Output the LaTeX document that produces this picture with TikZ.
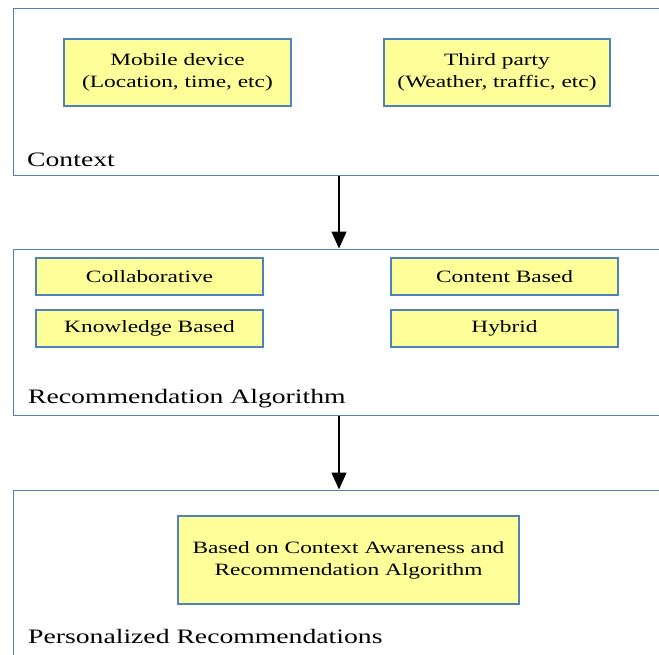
\documentclass[tikz,border=0pt]{standalone}
\usepackage{fontspec}
\setmainfont{Liberation Serif}
\newfontfamily\widefont[FakeStretch=1.35]{Liberation Serif}
\usetikzlibrary{arrows.meta}
\definecolor{bordblue}{HTML}{4F81BD}
\definecolor{boxyellow}{HTML}{FFFF99}
\tikzset{
  outerbox/.style={draw=bordblue, line width=1pt, rectangle, inner sep=0pt, minimum width=652pt},
  innerbox/.style={draw=bordblue, fill=boxyellow, line width=1.4pt, rectangle, inner sep=0pt, align=center,
    font=\widefont\fontsize{17.3}{22}\selectfont},
  grouplabel/.style={anchor=base west, inner sep=0pt, font=\widefont\fontsize{20.5}{24}\selectfont},
  flowarrow/.style={draw=black, line width=1.3pt, -{Triangle[length=17pt,width=15pt]}}
}
\begin{document}
\begin{tikzpicture}[x=1pt,y=-1pt]
\clip (0,0) rectangle (659,654);
\fill[white] (0,0) rectangle (659,654);
% outer containers
\node[outerbox, minimum height=167pt] (ctx) at (339,91.5) {};
\node[outerbox, minimum height=166pt] (alg) at (339,332) {};
\node[outerbox, minimum height=175pt] (pers) at (339,577.5) {};
% context
\node[innerbox, minimum width=227pt, minimum height=67pt] (mobile) at (177.5,72.5) {Mobile device\\(Location, time, etc)};
\node[innerbox, minimum width=226pt, minimum height=67pt] (third) at (497,72.5) {Third party\\(Weather, traffic, etc)};
\node[grouplabel] (ctxlabel) at (27,166) {Context};
% algorithms
\node[innerbox, minimum width=227pt, minimum height=37pt] (collab) at (149.5,276.5) {Collaborative};
\node[innerbox, minimum width=227pt, minimum height=37pt] (content) at (504.5,276.5) {Content Based};
\node[innerbox, minimum width=227pt, minimum height=37pt] (know) at (149.5,328.5) {Knowledge Based};
\node[innerbox, minimum width=227pt, minimum height=37pt] (hybrid) at (504.5,328.5) {Hybrid};
\node[grouplabel] (alglabel) at (28,403) {Recommendation Algorithm};
% personalized
\node[innerbox, minimum width=341pt, minimum height=88pt] (based) at (348.5,560) {Based on Context Awareness and\\Recommendation Algorithm};
\node[grouplabel] (perslabel) at (28,643) {Personalized Recommendations};
% arrows
\draw[flowarrow] (ctx.south) -- (alg.north);
\draw[flowarrow] (alg.south) -- (pers.north);
\end{tikzpicture}
\end{document}
